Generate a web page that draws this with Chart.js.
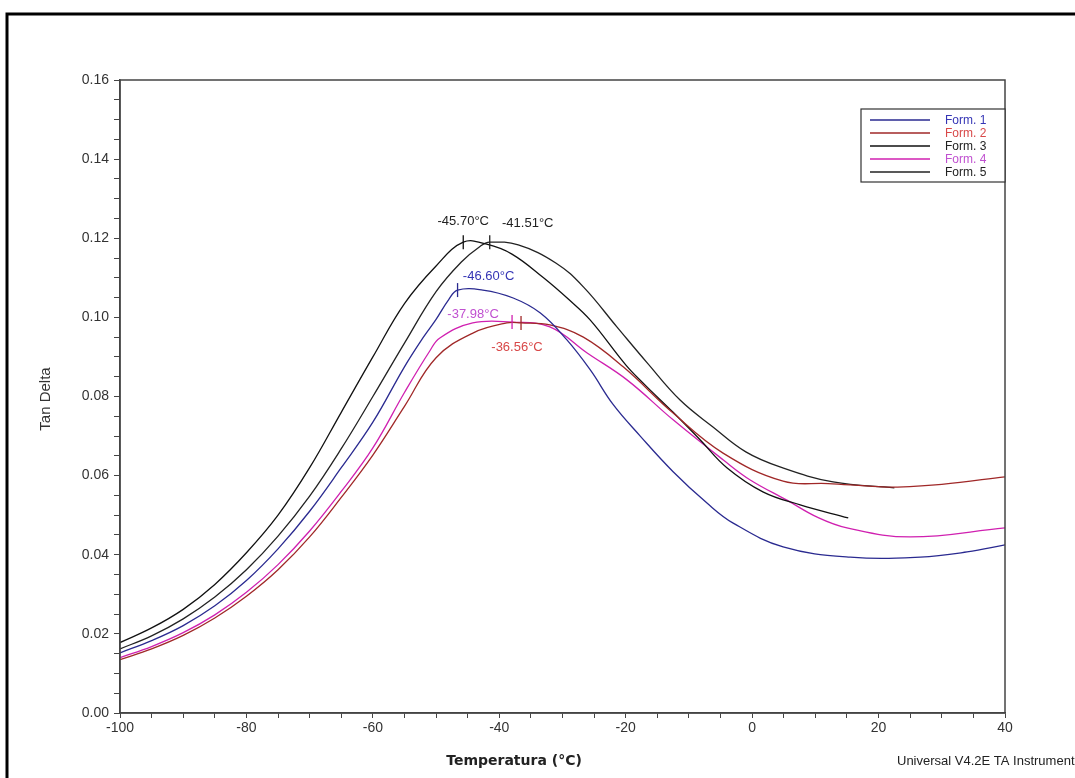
<!DOCTYPE html>
<html>
<head>
<meta charset="utf-8">
<script src="https://cdn.jsdelivr.net/npm/chart.js@4"></script>
<style>
  html, body { margin: 0; padding: 0; background: #fff; }
</style>
</head>
<body>
<canvas id="plot" width="1075" height="778"></canvas>
<script>
const seriesNames = ['Form. 1', 'Form. 2', 'Form. 3', 'Form. 4', 'Form. 5'];
const lineColors = ['#2a2a90', '#a02828', '#111111', '#d020b0', '#222222'];
const textColors = ['#3535b5', '#d84848', '#222222', '#c050d0', '#222222'];

// Form. 1
const temp1 = [-100, -95, -90, -85, -80, -75, -70, -65, -60, -55, -52, -50, -48, -46.6, -42.6, -37.8, -33.5, -29.3, -25.6, -22, -17.7, -12.5, -7.1, -3, 4.9, 15.5, 26.6, 34, 40];
const tan1 = [0.0152, 0.0183, 0.0221, 0.0271, 0.0335, 0.0415, 0.0510, 0.0620, 0.0735, 0.0875, 0.0950, 0.0995, 0.1045, 0.1069, 0.1069, 0.1049, 0.1011, 0.0943, 0.0867, 0.0780, 0.0700, 0.0610, 0.0530, 0.0480, 0.0420, 0.0394, 0.0394, 0.0407, 0.0425];

// Form. 2
const temp2 = [-100, -95, -90, -85, -80, -75, -70, -65, -60, -55, -50, -44.1, -38.8, -36.56, -32, -26.7, -20.4, -12.5, -4.6, 4.9, 12, 20, 23, 30, 40];
const tan2 = [0.0135, 0.0162, 0.0196, 0.0240, 0.0295, 0.0362, 0.0445, 0.0545, 0.0652, 0.0775, 0.0898, 0.0961, 0.0986, 0.0986, 0.0981, 0.0950, 0.0875, 0.0758, 0.0657, 0.0586, 0.0580, 0.0572, 0.0571, 0.0578, 0.0597];

// Form. 3
const temp3 = [-100, -95, -90, -85, -80, -75, -70, -65, -60, -55, -50, -45.7, -42, -38, -33, -29, -25.6, -20, -17, -12.5, -8.2, -4, 1.7, 7.6, 15.2];
const tan3 = [0.0178, 0.0215, 0.0262, 0.0325, 0.0405, 0.0500, 0.0620, 0.0760, 0.0900, 0.1035, 0.1130, 0.1190, 0.1185, 0.1160, 0.1100, 0.1045, 0.0993, 0.0880, 0.0830, 0.0760, 0.0690, 0.0620, 0.0559, 0.0526, 0.0493];

// Form. 4
const temp4 = [-100, -95, -90, -85, -80, -75, -70, -65, -60, -55, -51, -49.4, -44.2, -37.98, -32, -26.1, -19.8, -12.5, -4.6, -0.3, 5.5, 10.3, 15, 25, 40];
const tan4 = [0.0140, 0.0168, 0.0203, 0.0248, 0.0305, 0.0375, 0.0460, 0.0560, 0.0670, 0.0810, 0.0915, 0.0948, 0.0986, 0.0988, 0.0976, 0.0910, 0.0842, 0.0741, 0.0640, 0.0589, 0.0538, 0.0495, 0.0468, 0.0445, 0.0468];

// Form. 5
const temp5 = [-100, -95, -90, -85, -80, -75, -70, -65, -60, -55, -50, -46, -43, -41.51, -37, -31, -26.7, -21.4, -16.6, -11.4, -6.2, -1, 4.4, 12.8, 22.5];
const tan5 = [0.0162, 0.0195, 0.0238, 0.0293, 0.0362, 0.0447, 0.0548, 0.0668, 0.0800, 0.0935, 0.1065, 0.1140, 0.1180, 0.1190, 0.1183, 0.1137, 0.1077, 0.0976, 0.0885, 0.0791, 0.0723, 0.0660, 0.0622, 0.0584, 0.0569];

// peak markers
const peakLabels = ['-45.70°C', '-41.51°C', '-46.60°C', '-37.98°C', '-36.56°C'];
const peakTemps = [-45.70, -41.51, -46.60, -37.98, -36.56];
const peakValues = [0.1190, 0.1190, 0.1069, 0.0988, 0.0986];
const peakSeries = [2, 4, 0, 3, 1];

const xTickLabels = [-100, -80, -60, -40, -20, 0, 20, 40];
const yTickLabels = ['0.00', '0.02', '0.04', '0.06', '0.08', '0.10', '0.12', '0.14', '0.16'];

const allTemps = [temp1, temp2, temp3, temp4, temp5];
const allTans = [tan1, tan2, tan3, tan4, tan5];

// label offsets from marker, px
const peakLabelShift = [[0, -21], [38, -19], [31, -14], [-39, -8], [-4, 25]];

const framePlugin = {
    id: 'frame',
    afterDraw(chart) {
        const ctx = chart.ctx;
        const area = chart.chartArea;
        const xs = chart.scales.x;
        const ys = chart.scales.y;
        ctx.save();

        // outer frame
        ctx.strokeStyle = '#000';
        ctx.lineWidth = 3;
        ctx.beginPath();
        ctx.moveTo(7, 790);
        ctx.lineTo(7, 14);
        ctx.lineTo(1090, 14);
        ctx.stroke();

        // plot box
        ctx.strokeStyle = '#444';
        ctx.lineWidth = 1.5;
        ctx.strokeRect(area.left, area.top, area.right - area.left, area.bottom - area.top);

        // peak markers + labels
        ctx.font = '13px "Liberation Sans", Arial, sans-serif';
        ctx.textAlign = 'center';
        ctx.textBaseline = 'middle';
        peakTemps.forEach((t, i) => {
            const px = xs.getPixelForValue(t);
            const py = ys.getPixelForValue(peakValues[i]);
            const s = peakSeries[i];
            ctx.strokeStyle = lineColors[s];
            ctx.lineWidth = 1.3;
            ctx.beginPath();
            ctx.moveTo(px, py - 7);
            ctx.lineTo(px, py + 7);
            ctx.stroke();
            ctx.fillStyle = textColors[s];
            ctx.fillText(peakLabels[i], px + peakLabelShift[i][0], py + peakLabelShift[i][1]);
        });

        // legend
        const lx = 861, ly = 109, lw = area.right - 861, lh = 73;
        ctx.fillStyle = '#fff';
        ctx.fillRect(lx, ly, lw, lh);
        ctx.strokeStyle = '#333';
        ctx.lineWidth = 1.2;
        ctx.strokeRect(lx, ly, lw, lh);
        ctx.textAlign = 'left';
        ctx.font = '12px "Liberation Sans", Arial, sans-serif';
        seriesNames.forEach((name, i) => {
            const ry = ly + 11 + i * 13;
            ctx.strokeStyle = lineColors[i];
            ctx.lineWidth = 1.3;
            ctx.beginPath();
            ctx.moveTo(870, ry);
            ctx.lineTo(930, ry);
            ctx.stroke();
            ctx.fillStyle = textColors[i];
            ctx.fillText(name, 945, ry + 1);
        });

        // axis titles
        ctx.fillStyle = '#222';
        ctx.font = 'bold 14px "DejaVu Sans", Verdana, sans-serif';
        ctx.textAlign = 'center';
        ctx.fillText('Temperatura (°C)', 514, 761);

        ctx.save();
        ctx.translate(46, 399);
        ctx.rotate(-Math.PI / 2);
        ctx.font = '15px "Liberation Sans", Arial, sans-serif';
        ctx.fillStyle = '#333';
        ctx.fillText('Tan Delta', 0, 0);
        ctx.restore();

        ctx.textAlign = 'left';
        ctx.font = '13px "Liberation Sans", Arial, sans-serif';
        ctx.fillStyle = '#222';
        ctx.fillText('Universal V4.2E TA Instruments', 897, 761);

        ctx.restore();
    }
};

const datasets = seriesNames.map((name, i) => ({
    label: name,
    data: allTemps[i].map((t, j) => ({ x: t, y: allTans[i][j] })),
    borderColor: lineColors[i],
    borderWidth: 1.3,
    pointRadius: 0,
    fill: false,
    tension: 0.4
}));

const ctx = document.getElementById('plot').getContext('2d');
const chartObject = new Chart(ctx, {
    type: 'line',
    data: { datasets: datasets },
    options: {
        responsive: false,
        animation: false,
        devicePixelRatio: 1,
        layout: { padding: { left: 60, top: 80, right: 70, bottom: 0 } },
        plugins: {
            legend: { display: false },
            tooltip: { enabled: false }
        },
        scales: {
            x: {
                type: 'linear',
                min: -100,
                max: 40,
                afterFit: scale => { scale.height = 65; },
                border: { display: true, color: '#444', width: 1.5 },
                grid: { drawOnChartArea: false, drawTicks: true, tickLength: 5, color: '#444' },
                ticks: {
                    stepSize: 5,
                    autoSkip: false,
                    maxRotation: 0,
                    padding: 2,
                    color: '#333',
                    font: { family: '"Liberation Sans", Arial, sans-serif', size: 14 },
                    callback: v => xTickLabels.includes(Math.round(v)) && Math.abs(v - Math.round(v)) < 1e-6 ? String(Math.round(v)) : ''
                }
            },
            y: {
                min: 0,
                max: 0.16,
                afterFit: scale => { scale.width = 60; },
                border: { display: true, color: '#444', width: 1.5 },
                grid: { drawOnChartArea: false, drawTicks: true, tickLength: 6, color: '#444' },
                ticks: {
                    stepSize: 0.005,
                    autoSkip: false,
                    padding: 5,
                    color: '#333',
                    font: { family: '"Liberation Sans", Arial, sans-serif', size: 14 },
                    callback: v => {
                        const k = Math.round(v * 1000);
                        return k % 20 === 0 ? yTickLabels[k / 20] : '';
                    }
                }
            }
        }
    },
    plugins: [framePlugin]
});
</script>
</body>
</html>
